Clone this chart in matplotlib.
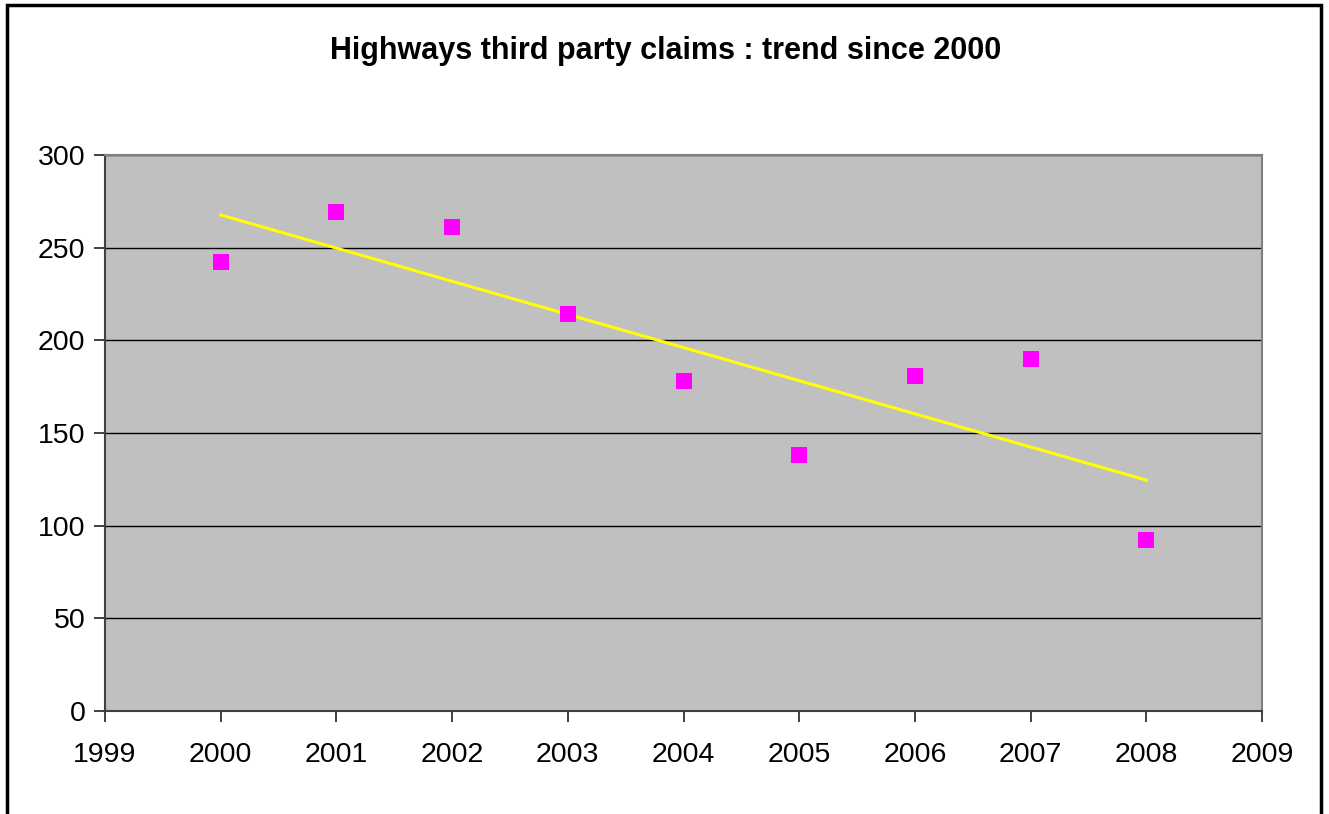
import numpy as np
import matplotlib
matplotlib.use("Agg")
import matplotlib.pyplot as plt
from matplotlib.patches import Rectangle

# Datos
years = [2000, 2001, 2002, 2003, 2004, 2005, 2006, 2007, 2008]
claims = [242, 269, 261, 214, 178, 138, 181, 190, 92]
xticks = list(range(1999, 2010))
yticks = [0, 50, 100, 150, 200, 250, 300]
title = "Highways third party claims : trend since 2000"

plt.rcParams['font.family'] = ['Liberation Sans', 'DejaVu Sans']

fig = plt.figure(figsize=(13.29, 8.14), dpi=100)
ax = fig.add_axes([105/1329, 1 - 711/814, (1262 - 105)/1329, (711 - 155)/814])
ax.set_facecolor('#c0c0c0')

# linea de tendencia (ajuste lineal)
coef = np.polyfit(years, claims, 1)
trend = np.polyval(coef, years)
ax.plot([years[0], years[-1]], [trend[0], trend[-1]], color='#ffff00', lw=2.2, zorder=3)

ax.plot(years, claims, 's', color='#ff00ff', markersize=11, markeredgewidth=0, zorder=4)

ax.set_xlim(1999, 2009)
ax.set_ylim(0, 300)
ax.set_xticks(xticks)
ax.set_yticks(yticks)
ax.tick_params(labelsize=20.5, direction='out', length=8, width=1.2, color='#202020')
ax.tick_params(axis='x', pad=14)
ax.tick_params(axis='y', pad=6)
ax.yaxis.grid(True, color='black', lw=1)
ax.set_axisbelow(True)

for s in ['top', 'right']:
    ax.spines[s].set_color('#808080')
    ax.spines[s].set_linewidth(1.5)
for s in ['left', 'bottom']:
    ax.spines[s].set_color('#404040')
    ax.spines[s].set_linewidth(1.5)

fig.text(0.501, 1 - 51/814, title, ha='center', va='center', fontsize=22, fontweight='bold')

# marco exterior
fig.patches.append(Rectangle((7/1329, -0.02), (1321 - 7)/1329, 1 - 5/814 + 0.02,
                             transform=fig.transFigure, fill=False, edgecolor='black', lw=2.5))

fig.savefig('out.png', dpi=100)
